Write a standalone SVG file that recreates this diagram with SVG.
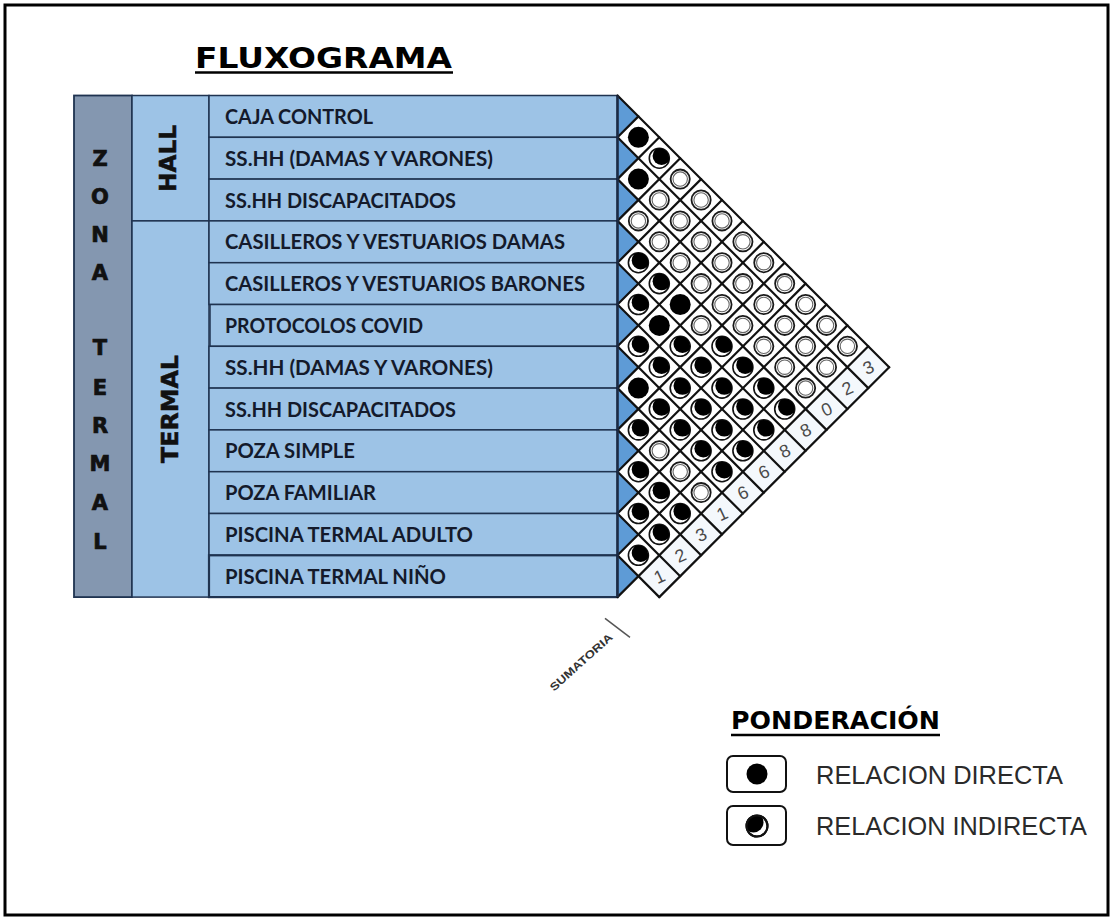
<svg xmlns="http://www.w3.org/2000/svg" xmlns:xlink="http://www.w3.org/1999/xlink" width="1114" height="919" viewBox="0 0 1114 919">
<style>
.cell{fill:#9DC3E6;stroke:#1F3350;stroke-width:1.5}
.zone{fill:#8497B0;stroke:#1F3350;stroke-width:1.8}
.lbl{font-family:Lato,"Liberation Sans",sans-serif;font-weight:bold;font-size:20px;fill:#141A2B}
.zl{font-family:"DejaVu Sans","Liberation Sans",sans-serif;font-weight:bold;font-size:21px;fill:#111;text-anchor:middle;stroke:#111;stroke-width:0.7}
.grp{font-family:"DejaVu Sans","Liberation Sans",sans-serif;font-weight:bold;font-size:23px;fill:#111;text-anchor:middle;stroke:#111;stroke-width:0.5}
.grid{stroke:#111;stroke-width:2.2;fill:none;stroke-linecap:round}
.num{font-family:"Liberation Sans",Arial,sans-serif;font-size:18px;fill:#4a4a4a;text-anchor:middle}
.leg{font-family:"Liberation Sans",Arial,sans-serif;font-size:25px;fill:#2a2a2a}
.head{font-family:"DejaVu Sans","Liberation Sans",sans-serif;font-weight:bold;fill:#000}
</style>
<defs>
<clipPath id="cc"><circle r="10"/></clipPath>
<clipPath id="cl"><circle r="11"/></clipPath>
<g id="w"><circle r="9.6" fill="#fff" stroke="#1a1a1a" stroke-width="1.8"/><circle r="7.2" fill="none" stroke="#666" stroke-width="1.1"/></g>
<g id="b"><circle r="10.5" fill="#000"/></g>
<g id="h"><circle r="10" fill="#fff" stroke="#111" stroke-width="1.6"/><circle cx="2.3" cy="-2.3" r="9" fill="#000" clip-path="url(#cc)"/></g>
</defs>
<rect width="1114" height="919" fill="#fff"/>
<rect x="5" y="5" width="1103" height="910" fill="none" stroke="#000" stroke-width="3"/>

<g id="title">
<text class="head" x="195" y="68" font-size="29" textLength="257" lengthAdjust="spacingAndGlyphs">FLUXOGRAMA</text>
<line x1="195" y1="72.5" x2="453" y2="72.5" stroke="#000" stroke-width="2.5"/>
</g>

<g id="zona">
<rect class="zone" x="74" y="95.5" width="58" height="501.6"/>
<text class="zl" x="100" y="165.5">Z</text>
<text class="zl" x="100" y="203.5">O</text>
<text class="zl" x="100" y="242">N</text>
<text class="zl" x="100" y="280">A</text>
<text class="zl" x="100" y="354.5">T</text>
<text class="zl" x="100" y="394.5">E</text>
<text class="zl" x="100" y="432.5">R</text>
<text class="zl" x="100" y="470.5">M</text>
<text class="zl" x="100" y="509.5">A</text>
<text class="zl" x="100" y="548.5">L</text>
</g>

<g id="hall">
<rect class="cell" x="132" y="95.5" width="77" height="125.4"/>
<text class="grp" transform="translate(167,158.5) rotate(-90)" x="0" y="8.5" textLength="67" lengthAdjust="spacingAndGlyphs">HALL</text>
</g>
<g id="termal">
<rect class="cell" x="132" y="220.9" width="77" height="376.2"/>
<text class="grp" transform="translate(169,409) rotate(-90)" x="0" y="8.5" textLength="108" lengthAdjust="spacingAndGlyphs">TERMAL</text>
</g>

<g id="r1"><rect class="cell" x="209" y="95.5" width="408.5" height="41.8"/><text class="lbl" x="225" y="123.9" textLength="148" lengthAdjust="spacingAndGlyphs">CAJA CONTROL</text></g>
<g id="r2"><rect class="cell" x="209" y="137.3" width="408.5" height="41.8"/><text class="lbl" x="225" y="165.7" textLength="268" lengthAdjust="spacingAndGlyphs">SS.HH (DAMAS Y VARONES)</text></g>
<g id="r3"><rect class="cell" x="209" y="179.1" width="408.5" height="41.8"/><text class="lbl" x="225" y="207.5" textLength="231" lengthAdjust="spacingAndGlyphs">SS.HH DISCAPACITADOS</text></g>
<g id="r4"><rect class="cell" x="209" y="220.9" width="408.5" height="41.8"/><text class="lbl" x="225" y="249.3" textLength="340" lengthAdjust="spacingAndGlyphs">CASILLEROS Y VESTUARIOS DAMAS</text></g>
<g id="r5"><rect class="cell" x="209" y="262.7" width="408.5" height="41.8"/><text class="lbl" x="225" y="291.1" textLength="360" lengthAdjust="spacingAndGlyphs">CASILLEROS Y VESTUARIOS BARONES</text></g>
<g id="r6"><rect class="cell" x="210" y="304.5" width="407.5" height="41.8"/><text class="lbl" x="225" y="332.9" textLength="198" lengthAdjust="spacingAndGlyphs">PROTOCOLOS COVID</text></g>
<g id="r7"><rect class="cell" x="209" y="346.3" width="408.5" height="41.8"/><text class="lbl" x="225" y="374.7" textLength="268" lengthAdjust="spacingAndGlyphs">SS.HH (DAMAS Y VARONES)</text></g>
<g id="r8"><rect class="cell" x="209" y="388.1" width="408.5" height="41.8"/><text class="lbl" x="225" y="416.5" textLength="231" lengthAdjust="spacingAndGlyphs">SS.HH DISCAPACITADOS</text></g>
<g id="r9"><rect class="cell" x="209" y="429.9" width="408.5" height="41.8"/><text class="lbl" x="225" y="458.3" textLength="130" lengthAdjust="spacingAndGlyphs">POZA SIMPLE</text></g>
<g id="r10"><rect class="cell" x="209" y="471.7" width="408.5" height="41.8"/><text class="lbl" x="225" y="500.1" textLength="151" lengthAdjust="spacingAndGlyphs">POZA FAMILIAR</text></g>
<g id="r11"><rect class="cell" x="209" y="513.5" width="408.5" height="41.8"/><text class="lbl" x="225" y="541.9" textLength="248" lengthAdjust="spacingAndGlyphs">PISCINA TERMAL ADULTO</text></g>
<g id="r12"><rect class="cell" x="209" y="555.3" width="408.5" height="41.8" style="stroke-width:2.2"/><text class="lbl" x="225" y="583.7" textLength="221" lengthAdjust="spacingAndGlyphs">PISCINA TERMAL NIÑO</text></g>

<g id="matrix">
<path d="M617.5,95.5 L638.4,116.4 L617.5,137.3 L638.4,158.2 L617.5,179.1 L638.4,200 L617.5,220.9 L638.4,241.8 L617.5,262.7 L638.4,283.6 L617.5,304.5 L638.4,325.4 L617.5,346.3 L638.4,367.2 L617.5,388.1 L638.4,409 L617.5,429.9 L638.4,450.8 L617.5,471.7 L638.4,492.6 L617.5,513.5 L638.4,534.4 L617.5,555.3 L638.4,576.2 L617.5,597.1 Z" fill="#5E9BD6"/>
<path d="M868.3,346.3 L889.2,367.2 L659.3,597.1 L638.4,576.2 Z" fill="#F4F8FC"/>
<g class="grid">
<line x1="617.5" y1="95.5" x2="889.2" y2="367.2"/>
<line x1="617.5" y1="137.3" x2="868.3" y2="388.1"/>
<line x1="617.5" y1="179.1" x2="847.4" y2="409"/>
<line x1="617.5" y1="220.9" x2="826.5" y2="429.9"/>
<line x1="617.5" y1="262.7" x2="805.6" y2="450.8"/>
<line x1="617.5" y1="304.5" x2="784.7" y2="471.7"/>
<line x1="617.5" y1="346.3" x2="763.8" y2="492.6"/>
<line x1="617.5" y1="388.1" x2="742.9" y2="513.5"/>
<line x1="617.5" y1="429.9" x2="722" y2="534.4"/>
<line x1="617.5" y1="471.7" x2="701.1" y2="555.3"/>
<line x1="617.5" y1="513.5" x2="680.2" y2="576.2"/>
<line x1="617.5" y1="555.3" x2="659.3" y2="597.1"/>
<line x1="617.5" y1="137.3" x2="638.4" y2="116.4"/>
<line x1="617.5" y1="179.1" x2="659.3" y2="137.3"/>
<line x1="617.5" y1="220.9" x2="680.2" y2="158.2"/>
<line x1="617.5" y1="262.7" x2="701.1" y2="179.1"/>
<line x1="617.5" y1="304.5" x2="722" y2="200"/>
<line x1="617.5" y1="346.3" x2="742.9" y2="220.9"/>
<line x1="617.5" y1="388.1" x2="763.8" y2="241.8"/>
<line x1="617.5" y1="429.9" x2="784.7" y2="262.7"/>
<line x1="617.5" y1="471.7" x2="805.6" y2="283.6"/>
<line x1="617.5" y1="513.5" x2="826.5" y2="304.5"/>
<line x1="617.5" y1="555.3" x2="847.4" y2="325.4"/>
<line x1="617.5" y1="597.1" x2="868.3" y2="346.3"/>
<line x1="659.3" y1="597.1" x2="889.2" y2="367.2"/>
</g>
<line x1="617.5" y1="95.5" x2="617.5" y2="597.1" stroke="#1B2A44" stroke-width="2.6"/>

<g id="cells">
<use href="#b" x="638.4" y="137.3"/>
<use href="#h" x="659.3" y="158.2"/>
<use href="#w" x="680.2" y="179.1"/>
<use href="#w" x="701.1" y="200"/>
<use href="#w" x="722" y="220.9"/>
<use href="#w" x="742.9" y="241.8"/>
<use href="#w" x="763.8" y="262.7"/>
<use href="#w" x="784.7" y="283.6"/>
<use href="#w" x="805.6" y="304.5"/>
<use href="#w" x="826.5" y="325.4"/>
<use href="#w" x="847.4" y="346.3"/>
<use href="#b" x="638.4" y="179.1"/>
<use href="#w" x="659.3" y="200"/>
<use href="#w" x="680.2" y="220.9"/>
<use href="#w" x="701.1" y="241.8"/>
<use href="#w" x="722" y="262.7"/>
<use href="#w" x="742.9" y="283.6"/>
<use href="#w" x="763.8" y="304.5"/>
<use href="#w" x="784.7" y="325.4"/>
<use href="#w" x="805.6" y="346.3"/>
<use href="#w" x="826.5" y="367.2"/>
<use href="#w" x="638.4" y="220.9"/>
<use href="#w" x="659.3" y="241.8"/>
<use href="#w" x="680.2" y="262.7"/>
<use href="#w" x="701.1" y="283.6"/>
<use href="#w" x="722" y="304.5"/>
<use href="#w" x="742.9" y="325.4"/>
<use href="#w" x="763.8" y="346.3"/>
<use href="#w" x="784.7" y="367.2"/>
<use href="#w" x="805.6" y="388.1"/>
<use href="#h" x="638.4" y="262.7"/>
<use href="#h" x="659.3" y="283.6"/>
<use href="#b" x="680.2" y="304.5"/>
<use href="#w" x="701.1" y="325.4"/>
<use href="#h" x="722" y="346.3"/>
<use href="#h" x="742.9" y="367.2"/>
<use href="#h" x="763.8" y="388.1"/>
<use href="#h" x="784.7" y="409"/>
<use href="#h" x="638.4" y="304.5"/>
<use href="#b" x="659.3" y="325.4"/>
<use href="#h" x="680.2" y="346.3"/>
<use href="#h" x="701.1" y="367.2"/>
<use href="#h" x="722" y="388.1"/>
<use href="#h" x="742.9" y="409"/>
<use href="#h" x="763.8" y="429.9"/>
<use href="#h" x="638.4" y="346.3"/>
<use href="#h" x="659.3" y="367.2"/>
<use href="#h" x="680.2" y="388.1"/>
<use href="#h" x="701.1" y="409"/>
<use href="#h" x="722" y="429.9"/>
<use href="#h" x="742.9" y="450.8"/>
<use href="#b" x="638.4" y="388.1"/>
<use href="#h" x="659.3" y="409"/>
<use href="#h" x="680.2" y="429.9"/>
<use href="#h" x="701.1" y="450.8"/>
<use href="#h" x="722" y="471.7"/>
<use href="#h" x="638.4" y="429.9"/>
<use href="#w" x="659.3" y="450.8"/>
<use href="#w" x="680.2" y="471.7"/>
<use href="#w" x="701.1" y="492.6"/>
<use href="#h" x="638.4" y="471.7"/>
<use href="#h" x="659.3" y="492.6"/>
<use href="#h" x="680.2" y="513.5"/>
<use href="#h" x="638.4" y="513.5"/>
<use href="#h" x="659.3" y="534.4"/>
<use href="#h" x="638.4" y="555.3"/>
</g>

<g id="sums">
<text class="num" transform="translate(659.3,576.2) rotate(-25)" y="6.5">1</text>
<text class="num" transform="translate(680.2,555.3) rotate(-25)" y="6.5">2</text>
<text class="num" transform="translate(701.1,534.4) rotate(-25)" y="6.5">3</text>
<text class="num" transform="translate(722,513.5) rotate(-25)" y="6.5">1</text>
<text class="num" transform="translate(742.9,492.6) rotate(-25)" y="6.5">6</text>
<text class="num" transform="translate(763.8,471.7) rotate(-25)" y="6.5">6</text>
<text class="num" transform="translate(784.7,450.8) rotate(-25)" y="6.5">8</text>
<text class="num" transform="translate(805.6,429.9) rotate(-25)" y="6.5">8</text>
<text class="num" transform="translate(826.5,409) rotate(-25)" y="6.5">0</text>
<text class="num" transform="translate(847.4,388.1) rotate(-25)" y="6.5">2</text>
<text class="num" transform="translate(868.3,367.2) rotate(-25)" y="6.5">3</text>
</g>
</g>

<g id="sumatoria">
<text transform="translate(581,662) rotate(-42)" x="0" y="4" text-anchor="middle" font-family="'Liberation Sans',Arial,sans-serif" font-weight="bold" font-size="11" fill="#333" textLength="80" lengthAdjust="spacingAndGlyphs">SUMATORIA</text>
<line x1="605" y1="618.3" x2="630" y2="637.3" stroke="#555" stroke-width="1.5"/>
</g>

<g id="legend">
<text class="head" x="731" y="729" font-size="24" textLength="209" lengthAdjust="spacingAndGlyphs">PONDERACIÓN</text>
<line x1="731" y1="735" x2="940" y2="735" stroke="#000" stroke-width="2.4"/>
<g id="leg-direct">
<rect x="727" y="756" width="59" height="36" rx="6" fill="#fff" stroke="#111" stroke-width="2"/>
<circle cx="757" cy="774" r="10.5" fill="#000"/>
<text class="leg" x="816" y="783.5" textLength="247" lengthAdjust="spacingAndGlyphs">RELACION DIRECTA</text>
</g>
<g id="leg-indirect">
<rect x="727" y="806" width="59" height="39" rx="6" fill="#fff" stroke="#111" stroke-width="2"/>
<g transform="translate(757,826)">
<circle r="10.5" fill="#fff" stroke="#111" stroke-width="2"/>
<circle cx="-3.5" cy="-3.5" r="10" fill="#000" clip-path="url(#cl)"/>
<circle r="10.5" fill="none" stroke="#111" stroke-width="2"/>
</g>
<text class="leg" x="816" y="835" textLength="271" lengthAdjust="spacingAndGlyphs">RELACION INDIRECTA</text>
</g>
</g>
</svg>
